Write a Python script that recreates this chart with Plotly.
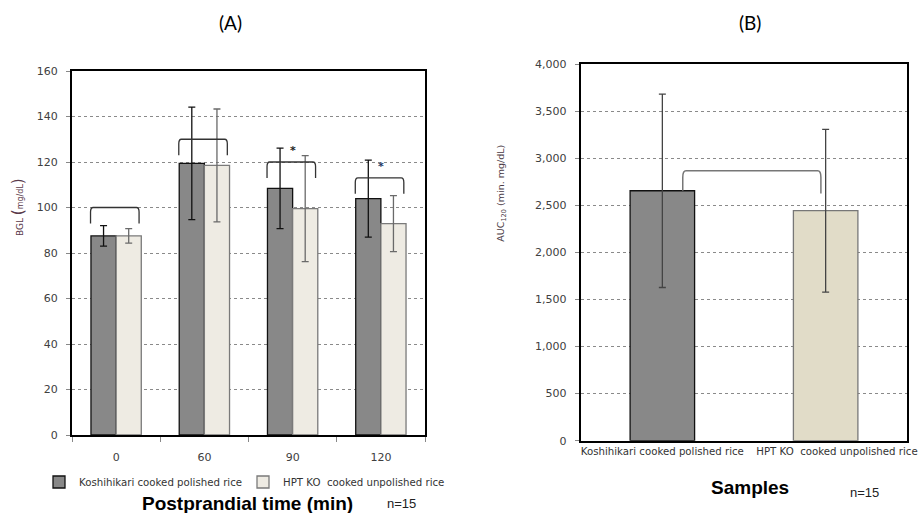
import plotly.graph_objects as go

# ---------------- data ----------------
time_labels = ["0", "60", "90", "120"]
series_names = ["Koshihikari cooked polished rice", "HPT KO\u00a0 cooked unpolished rice"]
koshi_bgl = [87.5, 119.4, 108.4, 103.9]
koshi_bgl_sd = [4.5, 24.7, 17.7, 16.9]
hpt_bgl = [87.5, 118.5, 99.5, 92.9]
hpt_bgl_sd = [3.2, 24.8, 23.3, 12.3]

sample_labels = ["Koshihikari cooked polished rice", "\u00a0" * 7 + "HPT KO\u00a0 cooked unpolished rice"]
auc_values = [2654, 2442]
auc_sd = [1027, 864]

bgl_ticks = [0, 20, 40, 60, 80, 100, 120, 140, 160]
auc_ticks = [0, 500, 1000, 1500, 2000, 2500, 3000, 3500, 4000]

# bracket levels (annotation positions) and significance marks
bgl_bracket_levels = [100, 130, 120, 113]
bgl_sig = ["", "", "*", "*"]
auc_bracket_level = 2866

# ---------------- styles ----------------
DARK = "#888888"
LIGHT_A = "#EEEBE3"
LIGHT_B = "#E1DCC8"
TICKFONT = dict(family="DejaVu Sans", size=11, color="#404040")
SMALLFONT = dict(family="DejaVu Sans", size=10.2, color="#333333")
W, H = 919, 513

fig = go.Figure()

xa = list(range(len(time_labels)))
fig.add_trace(go.Bar(
    x=xa, y=koshi_bgl, name=series_names[0], legend="legend",
    marker=dict(color=DARK, line=dict(color="#111111", width=1.3)),
    error_y=dict(type="data", array=koshi_bgl_sd, color="#111111", thickness=1.3, width=3.5),
    xaxis="x", yaxis="y",
))
fig.add_trace(go.Bar(
    x=xa, y=hpt_bgl, name=series_names[1], legend="legend2",
    marker=dict(color=LIGHT_A, line=dict(color="#7a7a7a", width=1.3)),
    error_y=dict(type="data", array=hpt_bgl_sd, color="#6a6a6a", thickness=1.3, width=3.5),
    xaxis="x", yaxis="y",
))

xb = list(range(len(sample_labels)))
fig.add_trace(go.Bar(
    x=xb, y=auc_values, width=0.395, showlegend=False,
    marker=dict(color=[DARK, LIGHT_B], line=dict(color=["#111111", "#777777"], width=1.3)),
    error_y=dict(type="data", array=auc_sd, color="#444444", thickness=1.3, width=3.5),
    xaxis="x2", yaxis="y2",
))

shapes = []
# brackets panel A
for i, lvl in enumerate(bgl_bracket_levels):
    x0, x1 = i - 0.29, i + 0.26
    drop, rx, ry = 7, 0.03, 2
    path = (f"M{x0},{lvl - drop} L{x0},{lvl - ry} Q{x0},{lvl} {x0 + rx},{lvl} "
            f"L{x1 - rx},{lvl} Q{x1},{lvl} {x1},{lvl - ry} L{x1},{lvl - drop}")
    shapes.append(dict(type="path", path=path, xref="x", yref="y",
                       line=dict(color="#333333", width=1.3)))
# bracket panel B
bx0, bx1 = 0.125, 0.971
rx, ry = 0.02, 70
path = (f"M{bx0},{auc_values[0]} L{bx0},{auc_bracket_level - ry} "
        f"Q{bx0},{auc_bracket_level} {bx0 + rx},{auc_bracket_level} "
        f"L{bx1 - rx},{auc_bracket_level} Q{bx1},{auc_bracket_level} {bx1},{auc_bracket_level - ry} "
        f"L{bx1},{auc_bracket_level - 240}")
shapes.append(dict(type="path", path=path, xref="x2", yref="y2",
                   line=dict(color="#777777", width=1.5)))

annotations = []
sig_colors = ["#222222", "#1f3864"]
k = 0
for i, s in enumerate(bgl_sig):
    if s:
        annotations.append(dict(x=i, y=bgl_bracket_levels[i] + 5, xref="x", yref="y",
                                text=f"<b>{s}</b>", showarrow=False,
                                font=dict(family="DejaVu Sans", size=11, color=sig_colors[k % 2])))
        k += 1

def px(x, y):
    return x / W, 1 - y / H

for txt, (x, y), font in [
    ("(A)", (230, 22), dict(family="Lato", size=19, color="#000")),
    ("(B)", (750, 22), dict(family="Lato", size=19, color="#000")),
    ("<b>Postprandial time (min)</b>", (247, 503), dict(family="Liberation Sans", size=19, color="#000")),
    ("n=15", (401, 503), dict(family="Liberation Sans", size=13, color="#222")),
    ("<b>Samples</b>", (750, 487), dict(family="Liberation Sans", size=19, color="#000")),
    ("n=15", (864.7, 492), dict(family="Liberation Sans", size=13, color="#222")),
]:
    xx, yy = px(x, y)
    annotations.append(dict(x=xx, y=yy, xref="paper", yref="paper", text=txt,
                            showarrow=False, xanchor="center", yanchor="middle", font=font))

# y-axis titles
xx, yy = px(18, 207)
annotations.append(dict(
    x=xx, y=yy, xref="paper", yref="paper", textangle=-90, showarrow=False,
    xanchor="center", yanchor="middle",
    text="BGL <span style='font-size:15px'>(</span><span style='font-size:8px'>mg/dL</span><span style='font-size:15px'>)</span>",
    font=dict(family="DejaVu Sans", size=9, color="#5a3a4a")))
xx, yy = px(500.7, 193)
annotations.append(dict(
    x=xx, y=yy, xref="paper", yref="paper", textangle=-90, showarrow=False,
    xanchor="center", yanchor="middle",
    text="AUC<sub>120</sub> (min. mg/dL)",
    font=dict(family="DejaVu Sans", size=9.5, color="#4a3a44")))

legend_common = dict(orientation="h", xanchor="left", yanchor="middle", font=SMALLFONT,
                     itemclick=False, bgcolor="rgba(0,0,0,0)")

fig.update_layout(
    width=W, height=H, margin=dict(l=0, r=0, t=0, b=0, autoexpand=False),
    paper_bgcolor="white", plot_bgcolor="white",
    barmode="group", bargap=0.43, bargroupgap=0,
    shapes=shapes, annotations=annotations,
    legend=dict(x=(79 - 40) / W, y=1 - 482 / H, **legend_common),
    legend2=dict(x=(283 - 40) / W, y=1 - 482 / H, **legend_common),
    xaxis=dict(domain=[72 / W, 425 / W], range=[-0.5, 3.5], tickmode="array", tickvals=xa,
               ticktext=time_labels, ticks="", ticklabelstandoff=11, tickfont=TICKFONT,
               showline=True, linecolor="#000", linewidth=2, mirror=True, showgrid=False,
               zeroline=False, anchor="y", automargin=False, tickangle=0,
               minor=dict(tickmode="array", tickvals=[-0.5, 0.5, 1.5, 2.5, 3.5], ticks="outside",
                          ticklen=5, tickcolor="#888", showgrid=False)),
    yaxis=dict(domain=[1 - 435 / H, 1 - 71 / H], range=[0, 160], tickmode="array", tickvals=bgl_ticks,
               tickfont=TICKFONT, ticks="outside", ticklen=4, tickcolor="#888",
               showline=True, linecolor="#000", linewidth=2, mirror=True,
               showgrid=True, gridcolor="#8a8a8a", griddash="dot", gridwidth=1,
               zeroline=False, anchor="x", ticklabelstandoff=6, automargin=False),
    xaxis2=dict(domain=[580.7 / W, 907.3 / W], range=[-0.5, 1.5], tickmode="array", tickvals=xb,
                ticktext=sample_labels, ticks="", ticklabelstandoff=0, tickfont=SMALLFONT,
                showline=True, linecolor="#000", linewidth=2, mirror=True, showgrid=False,
                zeroline=False, anchor="y2", automargin=False, tickangle=0,
                ticklabeloverflow="allow"),
    yaxis2=dict(domain=[1 - 440.7 / H, 1 - 64 / H], range=[0, 4000], tickmode="array", tickvals=auc_ticks,
                tickformat=",", tickfont=TICKFONT, ticks="outside", ticklen=4, tickcolor="#888",
                showline=True, linecolor="#000", linewidth=2, mirror=True,
                showgrid=True, gridcolor="#8a8a8a", griddash="dot", gridwidth=1,
                zeroline=False, anchor="x2", ticklabelstandoff=6, automargin=False),
)

fig.write_html("out.html")
